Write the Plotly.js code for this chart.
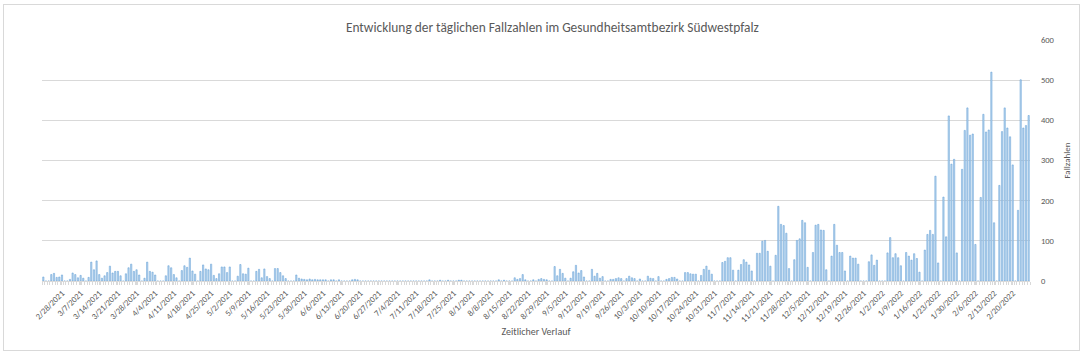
<!DOCTYPE html>
<html>
<head>
<meta charset="utf-8">
<script src="https://cdn.plot.ly/plotly-3.0.1.min.js"></script>
<style>
html,body{margin:0;padding:0;background:#fff;}
#chart{width:1083px;height:354px;}
#frame{position:absolute;left:3px;top:4px;width:1075px;height:345px;border:1px solid #d9d9d9;pointer-events:none;}
</style>
</head>
<body>
<div id="chart"></div>
<div id="frame"></div>
<script>
// First reported day of the series and the daily case numbers (one value per day)
const startDate = '2021-02-21';
const cases = [
  10,0,0,16,19,9,10,
  15,0,0,4,20,16,8,
  14,7,0,9,47,28,50,
  16,7,13,21,37,20,24,
  24,13,0,18,33,42,24,
  28,15,0,7,47,24,22,
  15,0,0,0,13,38,33,
  16,8,0,26,38,34,57,
  25,17,0,24,40,30,28,
  42,14,6,18,35,35,21,
  35,0,0,12,41,18,17,
  32,0,0,24,29,8,30,
  11,6,0,31,31,21,13,
  6,0,0,0,15,7,5,
  4,3,5,3,4,3,3,
  3,3,0,3,3,0,3,
  0,0,0,0,3,4,3,
  0,0,0,0,0,0,0,
  0,0,0,0,0,0,0,
  0,0,0,0,0,0,0,
  0,0,0,0,0,3,0,
  0,0,2,0,0,2,0,
  0,0,2,2,0,0,0,
  0,0,0,0,0,0,0,
  0,0,0,3,0,2,0,
  0,0,8,4,6,16,3,
  0,0,3,0,4,6,4,
  3,0,0,36,13,29,19,
  7,0,7,23,39,20,26,
  10,0,0,29,12,19,7,
  11,0,0,4,4,6,8,
  6,0,6,12,8,6,0,
  5,0,0,12,7,6,0,
  11,0,0,4,6,9,9,
  5,0,0,21,21,18,17,
  17,0,14,29,37,27,17,
  0,0,0,46,49,58,58,
  27,0,27,41,53,47,40,
  25,0,69,69,99,101,74,
  37,0,64,186,141,138,119,
  31,0,53,101,105,151,145,
  34,0,71,139,141,127,126,
  28,0,62,141,89,71,71,
  25,0,62,57,57,42,0,
  0,0,48,65,39,52,0,
  0,0,70,108,58,68,58,
  38,0,71,62,52,68,56,
  22,0,77,116,126,116,261,
  45,0,209,110,411,291,303,
  70,0,278,375,431,363,366,
  91,0,208,415,371,376,520,
  145,0,238,372,431,381,359,
  289,0,176,501,381,387,412
];
const firstTick = '2021-02-28';
const lastTick = '2022-02-20';
const yTicks = [0,100,200,300,400,500,600];
const titleText = 'Entwicklung der täglichen Fallzahlen im Gesundheitsamtbezirk Südwestpfalz';
const xTitle = 'Zeitlicher Verlauf';
const yTitle = 'Fallzahlen';

const DAY = 86400000;
const t0 = Date.parse(startDate + 'T00:00:00Z');
function iso(ms){ return new Date(ms).toISOString().slice(0,16).replace('T',' '); }
const dates = cases.map((_, i) => iso(t0 + i*DAY));
const rangeStart = iso(t0 - DAY/2);
const rangeEnd = iso(t0 + (cases.length - 1)*DAY + DAY/2);
const xTickVals = [];
for (let t = Date.parse(firstTick + 'T00:00:00Z'); t <= Date.parse(lastTick + 'T00:00:00Z'); t += 7*DAY) xTickVals.push(iso(t));

const fontFam = "Carlito, 'Liberation Sans Narrow', 'Open Sans', sans-serif";
const grey = '#595959';

Plotly.newPlot('chart', [{
  type: 'bar',
  x: dates,
  y: cases,
  marker: {color: '#bdd7ee', line: {color: '#5b9bd5', width: 0.5}},
  hoverinfo: 'x+y'
}], {
  width: 1083, height: 354,
  margin: {l: 42, r: 53, t: 40, b: 73},
  paper_bgcolor: 'rgba(0,0,0,0)',
  plot_bgcolor: '#fff',
  bargap: 0.52,
  showlegend: false,
  title: {text: titleText, font: {family: fontFam, size: 13.4, color: grey}, x: 0.51, xanchor: 'center', y: 0.922, yanchor: 'middle'},
  xaxis: {
    type: 'date',
    range: [rangeStart, rangeEnd],
    tickmode: 'array',
    tickvals: xTickVals,
    tickformat: '%-m/%-d/%Y',
    tickangle: -45,
    tickfont: {family: fontFam, size: 8.5, color: grey},
    ticks: 'outside', ticklen: 3, tickcolor: '#d9d9d9',
    minor: {dtick: DAY, tick0: rangeStart, ticks: 'outside', ticklen: 3, tickcolor: '#d9d9d9', showgrid: false},
    showgrid: false,
    showline: true, linecolor: '#d9d9d9', linewidth: 1,
    zeroline: false,
    title: {text: xTitle, font: {family: fontFam, size: 10, color: grey}, standoff: 4}
  },
  yaxis: {
    side: 'right',
    range: [0, 600],
    tickvals: yTicks,
    tickfont: {family: fontFam, size: 8.5, color: grey},
    showgrid: true, gridcolor: '#d9d9d9', gridwidth: 1,
    zeroline: false, showline: false,
    ticks: '', ticklabelstandoff: 10,
    title: {text: yTitle, font: {family: fontFam, size: 9, color: grey}, standoff: 10}
  }
}, {displayModeBar: false, staticPlot: true});
</script>
</body>
</html>
